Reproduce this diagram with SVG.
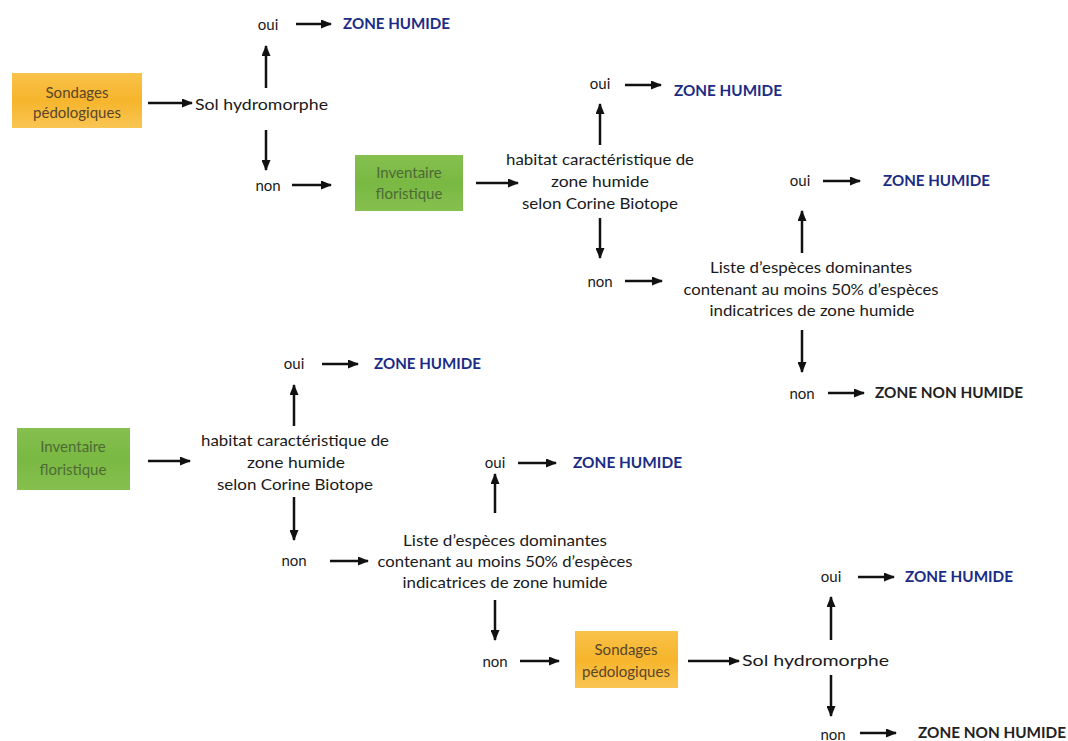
<svg xmlns="http://www.w3.org/2000/svg" width="1068" height="741" viewBox="0 0 1068 741">
<defs>
<marker id="ah" markerWidth="11" markerHeight="9" refX="10" refY="4.5" orient="auto" markerUnits="userSpaceOnUse">
<path d="M0,0 L11,4.5 L0,9 Z" fill="#111"/>
</marker>
<linearGradient id="og" x1="0" y1="0" x2="0" y2="1">
<stop offset="0" stop-color="#F9C24A"/><stop offset="0.5" stop-color="#F6B52C"/><stop offset="1" stop-color="#F9C553"/>
</linearGradient>
<linearGradient id="gg" x1="0" y1="0" x2="0" y2="1">
<stop offset="0" stop-color="#86C04E"/><stop offset="0.5" stop-color="#79B843"/><stop offset="1" stop-color="#86C04E"/>
</linearGradient>
</defs>
<style>
text{font-family:Lato,"Liberation Sans",sans-serif;font-size:15px;fill:#1a1a1a}
.c{text-anchor:middle}
.zh{font-weight:bold;fill:#1B2C86}
.znh{font-weight:bold;fill:#222}
.ob{fill:url(#og)}
.gb{fill:url(#gg)}
.ot{fill:#5a4528;text-anchor:middle}
.gt{fill:#4d6a35;text-anchor:middle}
.cn line{stroke:#111;stroke-width:2.5;marker-end:url(#ah)}
</style>
<rect width="1068" height="741" fill="#fff"/>

<g class="cn" id="connectors">
<line x1="148" y1="103" x2="192" y2="103"/>
<line x1="266" y1="88" x2="266" y2="46"/>
<line x1="266" y1="130" x2="266" y2="170"/>
<line x1="296" y1="24" x2="331" y2="24"/>
<line x1="292" y1="185" x2="331" y2="185"/>
<line x1="476" y1="183" x2="518" y2="183"/>
<line x1="600" y1="145" x2="600" y2="104"/>
<line x1="600" y1="218" x2="600" y2="258"/>
<line x1="625" y1="85" x2="661" y2="85"/>
<line x1="625" y1="281" x2="662" y2="281"/>
<line x1="802" y1="253" x2="802" y2="211"/>
<line x1="802" y1="330" x2="802" y2="372"/>
<line x1="823" y1="181" x2="860" y2="181"/>
<line x1="828" y1="393" x2="864" y2="393"/>

<line x1="148" y1="461" x2="190" y2="461"/>
<line x1="294" y1="426" x2="294" y2="385"/>
<line x1="294" y1="497" x2="294" y2="540"/>
<line x1="322" y1="364" x2="358" y2="364"/>
<line x1="330" y1="561" x2="368" y2="561"/>
<line x1="495" y1="513" x2="495" y2="474"/>
<line x1="495" y1="600" x2="495" y2="640"/>
<line x1="518" y1="463" x2="556" y2="463"/>
<line x1="520" y1="661" x2="559" y2="661"/>
<line x1="688" y1="661" x2="739" y2="661"/>
<line x1="831" y1="640" x2="831" y2="597"/>
<line x1="831" y1="675" x2="831" y2="716"/>
<line x1="858" y1="577" x2="894" y2="577"/>
<line x1="860" y1="733" x2="896" y2="733"/>
</g>

<!-- top section -->
<g id="sondages1"><rect class="ob" x="12" y="73" width="130" height="55"/><text class="ot" x="77" y="98">Sondages</text><text class="ot" x="77" y="118">pédologiques</text></g>
<g id="sol1"><text x="195" y="110" textLength="133" lengthAdjust="spacingAndGlyphs">Sol hydromorphe</text></g>
<g id="oui1"><text class="c" x="268" y="30">oui</text></g>
<g id="zh1"><text class="zh" x="343" y="29" textLength="107" lengthAdjust="spacingAndGlyphs">ZONE HUMIDE</text></g>
<g id="non1"><text class="c" x="268" y="191">non</text></g>
<g id="inventaire1"><rect class="gb" x="355" y="155" width="108" height="56"/><text class="gt" x="409" y="178">Inventaire</text><text class="gt" x="409" y="199">floristique</text></g>
<g id="habitat1"><text class="c" x="600" y="165" textLength="188" lengthAdjust="spacingAndGlyphs">habitat caractéristique de</text><text class="c" x="600" y="187" textLength="98" lengthAdjust="spacingAndGlyphs">zone humide</text><text class="c" x="600" y="209" textLength="156" lengthAdjust="spacingAndGlyphs">selon Corine Biotope</text></g>
<g id="oui2"><text class="c" x="600" y="89">oui</text></g>
<g id="zh2"><text class="zh" x="674" y="96" textLength="108" lengthAdjust="spacingAndGlyphs">ZONE HUMIDE</text></g>
<g id="non2"><text class="c" x="600" y="287">non</text></g>
<g id="liste1"><text class="c" x="811" y="273" textLength="202" lengthAdjust="spacingAndGlyphs">Liste d’espèces dominantes</text><text class="c" x="811" y="295" textLength="255" lengthAdjust="spacingAndGlyphs">contenant au moins 50% d’espèces</text><text class="c" x="812" y="316" textLength="205" lengthAdjust="spacingAndGlyphs">indicatrices de zone humide</text></g>
<g id="oui3"><text class="c" x="800" y="186">oui</text></g>
<g id="zh3"><text class="zh" x="883" y="186" textLength="107" lengthAdjust="spacingAndGlyphs">ZONE HUMIDE</text></g>
<g id="non3"><text class="c" x="802" y="399">non</text></g>
<g id="znh1"><text class="znh" x="875" y="398" textLength="148" lengthAdjust="spacingAndGlyphs">ZONE NON HUMIDE</text></g>

<!-- bottom section -->
<g id="inventaire2"><rect class="gb" x="17" y="428" width="113" height="62"/><text class="gt" x="73" y="452">Inventaire</text><text class="gt" x="73" y="475">floristique</text></g>
<g id="habitat2"><text class="c" x="295" y="446" textLength="188" lengthAdjust="spacingAndGlyphs">habitat caractéristique de</text><text class="c" x="296" y="468" textLength="98" lengthAdjust="spacingAndGlyphs">zone humide</text><text class="c" x="295" y="490" textLength="156" lengthAdjust="spacingAndGlyphs">selon Corine Biotope</text></g>
<g id="oui4"><text class="c" x="294" y="369">oui</text></g>
<g id="zh4"><text class="zh" x="374" y="369" textLength="107" lengthAdjust="spacingAndGlyphs">ZONE HUMIDE</text></g>
<g id="non4"><text class="c" x="294" y="566">non</text></g>
<g id="liste2"><text class="c" x="505" y="546" textLength="204" lengthAdjust="spacingAndGlyphs">Liste d’espèces dominantes</text><text class="c" x="505" y="567" textLength="255" lengthAdjust="spacingAndGlyphs">contenant au moins 50% d’espèces</text><text class="c" x="505" y="588" textLength="205" lengthAdjust="spacingAndGlyphs">indicatrices de zone humide</text></g>
<g id="oui5"><text class="c" x="495" y="468">oui</text></g>
<g id="zh5"><text class="zh" x="573" y="468" textLength="109" lengthAdjust="spacingAndGlyphs">ZONE HUMIDE</text></g>
<g id="non5"><text class="c" x="495" y="667">non</text></g>
<g id="sondages2"><rect class="ob" x="575" y="631" width="103" height="57"/><text class="ot" x="626" y="655">Sondages</text><text class="ot" x="626" y="677">pédologiques</text></g>
<g id="sol2"><text x="742" y="666" textLength="147" lengthAdjust="spacingAndGlyphs">Sol hydromorphe</text></g>
<g id="oui6"><text class="c" x="831" y="582">oui</text></g>
<g id="zh6"><text class="zh" x="905" y="582" textLength="108" lengthAdjust="spacingAndGlyphs">ZONE HUMIDE</text></g>
<g id="non6"><text class="c" x="833" y="740">non</text></g>
<g id="znh2"><text class="znh" x="918" y="738" textLength="148" lengthAdjust="spacingAndGlyphs">ZONE NON HUMIDE</text></g>
</svg>
